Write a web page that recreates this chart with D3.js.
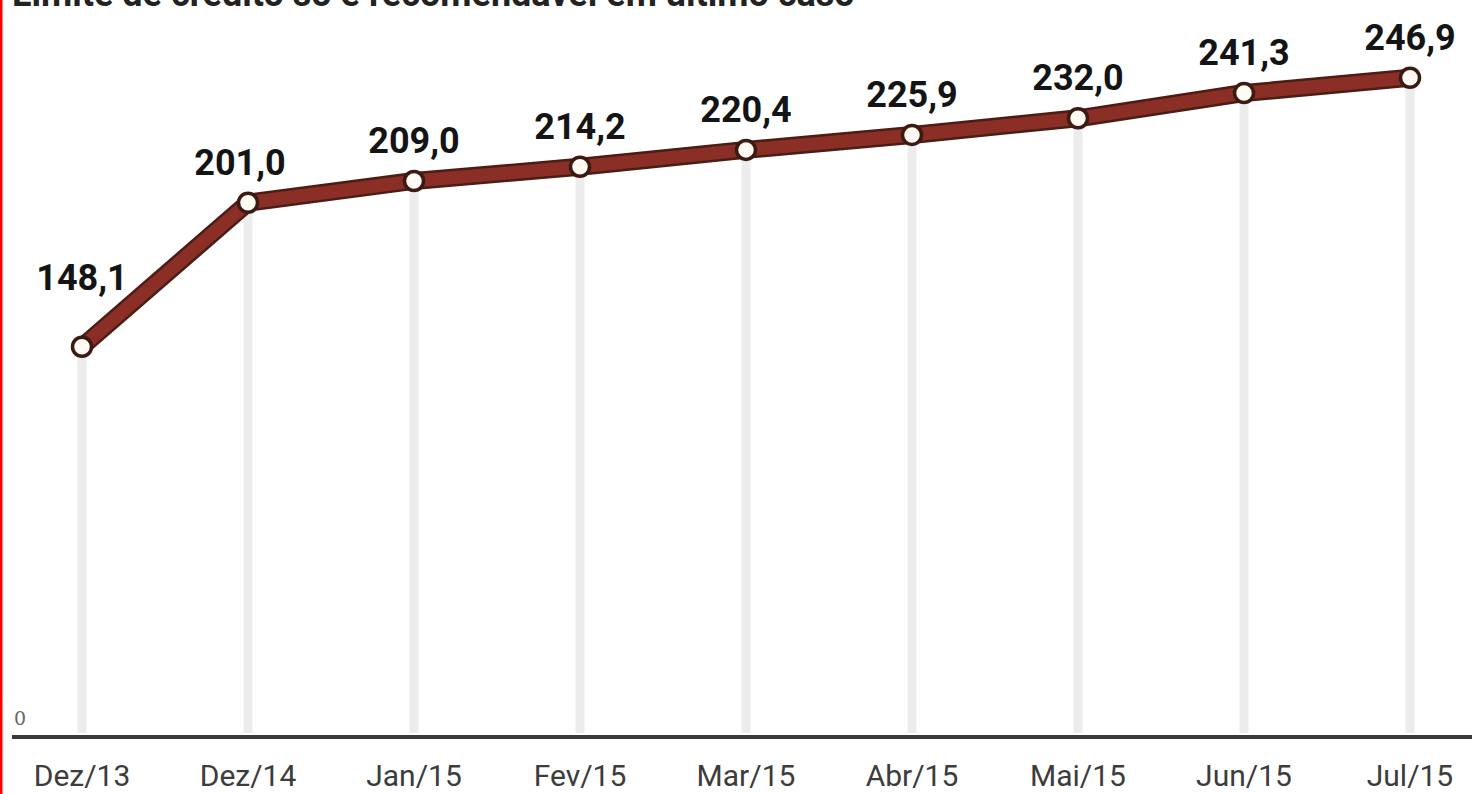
<!DOCTYPE html>
<html>
<head>
<meta charset="utf-8">
<script src="https://cdn.jsdelivr.net/npm/d3@7"></script>
<style>
  body { margin: 0; background: #fff; overflow: hidden; }
  svg { display: block; }
</style>
</head>
<body>
<div id="chart"></div>
<script>
// data
const months = ["Dez/13", "Dez/14", "Jan/15", "Fev/15", "Mar/15", "Abr/15", "Mai/15", "Jun/15", "Jul/15"];
const values = [148.1, 201.0, 209.0, 214.2, 220.4, 225.9, 232.0, 241.3, 246.9];
const titleText = "Limite de crédito só é recomendável em último caso";

const W = 1472, H = 794;
const axisY = 737;

const svg = d3.select("#chart")
    .append("svg")
    .attr("width", W)
    .attr("height", H);

svg.append("rect").attr("width", W).attr("height", H).attr("fill", "#fff");

// x and y scales
const x = d3.scalePoint()
    .domain(months)
    .range([82, 1410]);

const y = d3.scaleLinear()
    .domain([0, 250])
    .range([750, 69.3]);

// title, cut off by the top edge like in the source image
svg.append("text")
    .attr("x", 12)
    .attr("y", 6)
    .attr("font-family", "Roboto, sans-serif")
    .attr("font-weight", 700)
    .attr("font-size", 36)
    .attr("fill", "#222")
    .text(titleText);

const data = months.map((m, i) => ({month: m, value: values[i]}));

// vertical guides from each point to the base
svg.append("g")
    .selectAll("line")
    .data(data)
    .join("line")
        .attr("x1", d => x(d.month))
        .attr("x2", d => x(d.month))
        .attr("y1", d => y(d.value))
        .attr("y2", axisY - 4)
        .attr("stroke", "#ececec")
        .attr("stroke-width", 9);

// base line
svg.append("line")
    .attr("x1", 12).attr("x2", W)
    .attr("y1", axisY).attr("y2", axisY)
    .attr("stroke", "#3a3a3a")
    .attr("stroke-width", 4);

// zero label
svg.append("text")
    .attr("x", 14)
    .attr("y", 725)
    .attr("font-family", "'DejaVu Serif', serif")
    .attr("font-size", 19)
    .attr("fill", "#666")
    .text("0");

// x tick labels
svg.append("g")
    .selectAll("text")
    .data(months)
    .join("text")
        .attr("x", d => x(d))
        .attr("y", 786)
        .attr("text-anchor", "middle")
        .attr("font-family", "Roboto, sans-serif")
        .attr("font-size", 30)
        .attr("fill", "#3c3c3c")
        .text(d => d);

// the line: dark outline with reddish core
const line = d3.line()
    .x(d => x(d.month))
    .y(d => y(d.value));

svg.append("path")
    .datum(data)
    .attr("fill", "none")
    .attr("stroke", "#4a1d15")
    .attr("stroke-width", 18)
    .attr("stroke-linejoin", "round")
    .attr("d", line);

svg.append("path")
    .datum(data)
    .attr("fill", "none")
    .attr("stroke", "#8b2e25")
    .attr("stroke-width", 13)
    .attr("stroke-linejoin", "round")
    .attr("d", line);

// markers
svg.append("g")
    .selectAll("circle")
    .data(data)
    .join("circle")
        .attr("cx", d => x(d.month))
        .attr("cy", d => y(d.value))
        .attr("r", 9.5)
        .attr("fill", "#fffaf4")
        .attr("stroke", "#3b1a12")
        .attr("stroke-width", 3.5);

// value labels
const fmt = v => v.toFixed(1).replace(".", ",");

svg.append("g")
    .selectAll("text")
    .data(data)
    .join("text")
        .attr("x", (d, i) => x(d.month) + (i === 1 ? -8 : 0))
        .attr("y", (d, i) => y(d.value) - (i === 0 ? 57 : 28))
        .attr("text-anchor", "middle")
        .attr("font-family", "Roboto, sans-serif")
        .attr("font-weight", 700)
        .attr("font-size", 36)
        .attr("fill", "#141414")
        .text(d => fmt(d.value));

// red edge on the left
svg.append("rect")
    .attr("x", 0).attr("y", 0)
    .attr("width", 2.5).attr("height", H)
    .attr("fill", "#ff0000");
</script>
</body>
</html>
